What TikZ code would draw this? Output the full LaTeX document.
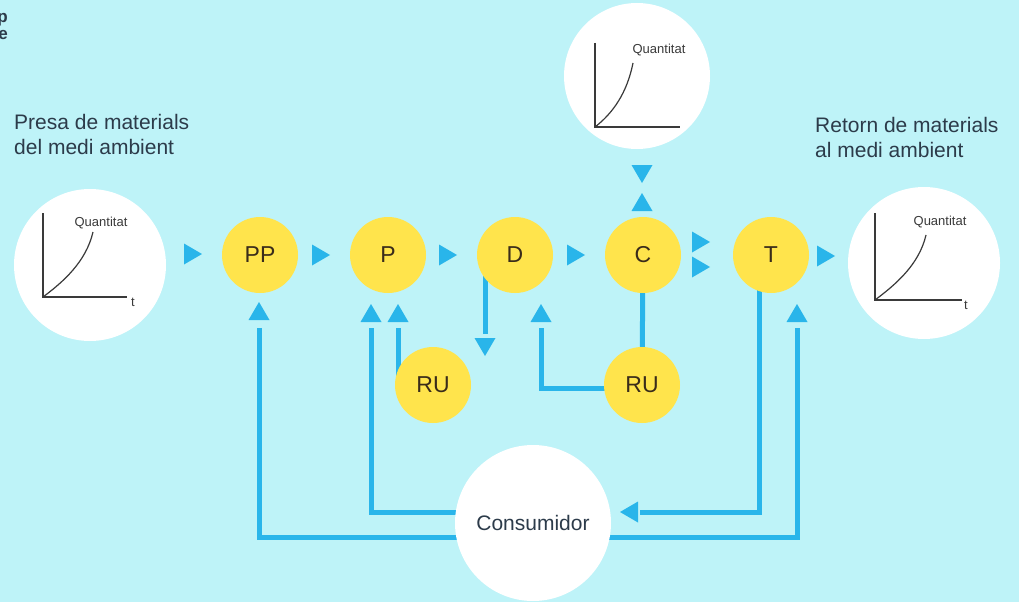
\documentclass[tikz,border=0pt]{standalone}
\usepackage{fontspec}
\setmainfont{Liberation Sans}
\usetikzlibrary{calc}
\definecolor{bgc}{HTML}{BEF3F8}
\definecolor{yel}{HTML}{FFE44C}
\definecolor{blu}{HTML}{29B5EA}
\definecolor{ink}{HTML}{3A2C1A}
\definecolor{ttl}{HTML}{2C3B4A}
\definecolor{axc}{HTML}{3A3A3A}
\pgfdeclarelayer{paper}
\pgfdeclarelayer{back}
\pgfsetlayers{paper,back,main}
\newcommand\tri[3]{\fill[blu,shift={(#1,#2)},rotate=#3] (9,0) -- (-9,-10.5) -- (-9,10.5) -- cycle;}
\tikzset{
  yc/.style={circle,fill=yel,minimum size=76pt,inner sep=0pt,text=ink,font=\fontsize{23}{23}\selectfont},
  wc/.style={circle,fill=white,inner sep=0pt},
  conn/.style={draw=blu,line width=5pt},
  axis/.style={draw=axc,line width=1.2pt},
  small/.style={text=axc,font=\fontsize{13}{13}\selectfont,inner sep=0pt},
  ttltext/.style={text=ttl,font=\fontsize{21}{25}\selectfont,align=left,inner sep=0pt}
}
\begin{document}
\begin{tikzpicture}[x=1pt,y=-1pt]
\begin{pgfonlayer}{paper}
\fill[bgc] (0,0) rectangle (1019,602);
\end{pgfonlayer}
\useasboundingbox (0,0) rectangle (1019,602);

% partial heading at left edge
\node[anchor=base east,text=ttl,font=\fontsize{17}{17}\selectfont\bfseries,inner sep=0pt] (h1) at (8,23) {p};
\node[anchor=base east,text=ttl,font=\fontsize{17}{17}\selectfont\bfseries,inner sep=0pt] (h2) at (8,40) {e};

% titles
\node[ttltext,anchor=north west] (tin) at (14,114) {Presa de materials\\del medi ambient};
\node[ttltext,anchor=north west] (tout) at (815,117) {Retorn de materials\\al medi ambient};

% white graph circles
\node[wc,minimum size=152pt] (gin) at (90,265) {};
\node[wc,minimum size=146pt] (gtop) at (637,76) {};
\node[wc,minimum size=152pt] (gout) at (924,263) {};
\node[wc,minimum size=156pt] (Cons) at (533,523) {\fontsize{21}{21}\selectfont\color{ttl}Consumidor};

% yellow circles
\node[yc] (PP) at (260,255) {PP};
\node[yc] (P) at (388,255) {P};
\node[yc] (D) at (515,255) {D};
\node[yc] (C) at (643,255) {C};
\node[yc] (T) at (771,255) {T};
\node[yc] (RU1) at (433,385) {RU};
\node[yc] (RU2) at (642,385) {RU};

% arrow ends
\coordinate (aPP) at (259,328);
\coordinate (aP) at (371,328);
\coordinate (aRU1) at (398,328);
\coordinate (aDdown) at (485,334);
\coordinate (aD) at (541,328);
\coordinate (aT) at (797,328);
\coordinate (aCons) at (640,512);

\begin{pgfonlayer}{back}
\draw[conn] ($(Cons.center)+(0,14)$) -| (aPP);
\draw[conn] ($(Cons.center)+(0,-11)$) -| (aP);
\draw[conn] (aRU1 |- RU1.center) -- (aRU1);
\draw[conn] (aDdown |- D.center) -- (aDdown);
\draw[conn] ($(RU2.center)+(0,3)$) -| (aD);
\draw[conn] (C) -- (RU2);
\draw[conn] ($(T.center)+(-12,0)$) |- (aCons);
\draw[conn] ($(Cons.center)+(0,14)$) -| (aT);
\end{pgfonlayer}

% arrowheads
\tri{193}{254}{0}
\tri{321}{255}{0}
\tri{448}{255}{0}
\tri{576}{255}{0}
\tri{701}{242}{0}
\tri{701}{267}{0}
\tri{826}{256}{0}
\tri{642}{174}{-90}
\tri{642}{202}{90}
\tri{259}{311}{90}
\tri{371}{313}{90}
\tri{398}{313}{90}
\tri{541}{313}{90}
\tri{797}{313}{90}
\tri{485}{347}{-90}
\tri{629}{512}{180}

% graph: input
\draw[axis] (43,213) -- (43,297) -- (127,297);
\draw[axis] (43,297) .. controls (63,282) and (86,262) .. (93,232);
\node[small] (qin) at (101,223) {Quantitat};
\node[small,anchor=west] (tin2) at (131,302) {t};

% graph: top
\draw[axis] (595,43) -- (595,127) -- (680,127);
\draw[axis] (595,127) .. controls (613,113) and (627,93) .. (633,63);
\node[small] (qtop) at (659,50) {Quantitat};

% graph: output
\draw[axis] (875,213) -- (875,300) -- (962,300);
\draw[axis] (875,300) .. controls (895,285) and (919,265) .. (926,235);
\node[small] (qout) at (940,222) {Quantitat};
\node[small,anchor=west] (tout2) at (964,305) {t};
\end{tikzpicture}
\end{document}
